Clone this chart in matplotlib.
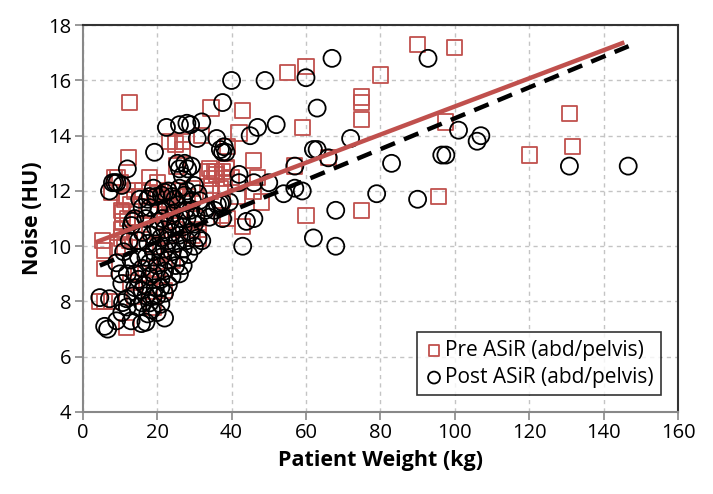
import matplotlib
matplotlib.use('Agg')
import matplotlib.pyplot as plt
import numpy as np

plt.rcParams['font.family'] = ['Open Sans', 'DejaVu Sans']

# Pre ASiR (abd/pelvis) -- squares
preX = [90, 100, 55, 60, 80, 75, 75, 75, 34.5, 43, 59, 97.6, 42, 39, 46, 57, 66, 95.7, 75, 60,
        43, 31, 130.8, 131.6, 120, 12.6, 32, 25, 12.3, 26.8, 25.2, 36, 37.5, 9.4, 11.3, 20, 22.8,
        25, 29.5, 34.6, 15.3, 10.5, 34.3, 36, 37, 41.6, 48, 46, 47, 38.6, 34, 23.3, 26.8, 33.5,
        35.4, 38.6, 34.6, 38, 40, 24, 37.3, 38.9, 21, 22.5, 23.3, 30.5, 31, 29.5, 5.9, 7.8, 5.9,
        5.9, 11.8, 13, 4.5, 14, 16, 18, 19, 20, 21, 22, 23, 24, 25, 26, 27, 28, 17, 15, 14, 18,
        20, 22, 24, 16, 20, 18, 12, 13, 14, 12.6, 11.3, 9.4, 5.4, 10.7, 10.7, 10.5, 10.5, 8.6,
        10, 7.8, 11.8, 22, 19]
preY = [17.3, 17.2, 16.3, 16.5, 16.2, 15.4, 15.2, 14.6, 15.0, 14.9, 14.3, 14.5, 14.1, 13.6, 13.1,
        12.9, 13.2, 11.8, 11.3, 11.1, 10.7, 10.3, 14.8, 13.6, 13.3, 15.2, 14.0, 13.7, 13.2, 13.5,
        12.9, 12.7, 12.7, 12.5, 11.7, 11.9, 12.0, 12.0, 12.1, 12.2, 11.8, 11.3, 12.0, 12.6, 12.1,
        11.8, 11.6, 12.0, 12.5, 12.8, 12.8, 13.8, 13.8, 12.7, 12.7, 12.85, 12.45, 12.45, 12.5,
        12.0, 11.1, 11.0, 11.7, 11.6, 11.3, 11.0, 10.6, 10.4, 8.0, 8.0, 9.85, 9.2, 7.05, 8.7, 8.0,
        10.5, 10.8, 11.3, 10.0, 10.6, 9.8, 10.9, 10.4, 11.1, 10.6, 11.3, 11.6, 11.8, 9.2, 9.0,
        8.2, 8.6, 8.9, 9.2, 9.5, 12.0, 12.3, 12.5, 11.0, 11.5, 12.0, 10.2, 10.0, 9.95, 10.2, 11.2,
        10.9, 10.6, 10.3, 12.5, 12.3, 11.95, 11.8, 8.4, 7.8]

# Post ASiR (abd/pelvis) -- circles
postX = [67, 92.8, 40, 49, 60, 37.6, 63, 32, 52, 47, 45, 36, 37, 38.5, 62, 63, 72, 66, 83, 96.5,
         97.6, 101, 107, 106, 130.8, 146.6, 57, 42, 42, 46, 50, 54, 57, 59, 79, 90, 37, 33, 37.6,
         44, 46, 68, 62, 68, 43,
         22.5, 26, 28, 29, 30.8, 38, 37.6, 19.3, 25.5, 27.4, 29.2, 28.2, 26.8, 26, 12, 8, 10.5,
         7.2, 8.6, 9.2, 24.7, 27.3, 29.5, 31.4, 22, 21.2, 36.2, 37.5, 35.4, 33.2, 34, 39.4, 15.3,
         17.4, 18, 19, 19.7, 13.4, 13.1,
         4.6, 7.2, 5.9, 6.7, 9.1, 10, 10.5, 10.7, 11.8, 12, 10.5, 9.1, 13, 15.8, 17, 17.5, 14.8,
         16, 18, 20, 22, 21,
         14, 15, 16, 16.5, 17, 17.5, 18, 18, 18.5, 19, 19, 19.5, 19.5, 20, 20, 20.5, 20.5, 21, 21,
         21, 21.5, 22, 22, 22, 22.5, 23, 23, 23, 23.5, 24, 24, 24.5, 25, 25, 25, 25.5, 26, 26,
         26.5, 27, 27, 27.5, 28, 28, 28.5, 29, 29, 30, 30, 30.5, 31, 32, 16, 15, 14, 13, 12.5, 12,
         11, 17, 18, 16, 14, 15, 13.5, 17, 16, 19, 20, 18.5, 21, 22, 24, 26, 27, 24, 26, 28, 23,
         30, 31]
postY = [16.8, 16.8, 16.0, 16.0, 16.1, 15.2, 15.0, 14.5, 14.4, 14.3, 14.0, 13.9, 13.5, 13.4, 13.5,
         13.5, 13.9, 13.2, 13.0, 13.3, 13.3, 14.2, 14.0, 13.8, 12.9, 12.9, 12.9, 12.6, 12.3, 12.3,
         12.3, 11.9, 12.1, 12.0, 11.9, 11.7, 11.55, 11.3, 11.0, 10.9, 11.0, 11.3, 10.3, 10.0, 10.0,
         14.3, 14.4, 14.45, 14.4, 13.9, 13.6, 13.4, 13.4, 13.0, 13.0, 12.9, 12.8, 12.55, 12.8,
         12.8, 12.3, 12.2, 12.0, 12.3, 12.3, 11.7, 11.85, 11.65, 11.65, 11.95, 11.85, 11.5, 11.6,
         11.3, 11.4, 11.05, 11.6, 11.7, 11.7, 11.4, 12.1, 11.8, 10.9, 10.75,
         8.14, 8.1, 7.1, 7.0, 9.4, 9.0, 8.65, 7.96, 8.1, 7.8, 7.6, 7.3, 7.3, 7.2, 7.25, 7.55, 7.8,
         7.95, 7.95, 8.2, 7.4, 7.9,
         8.5, 8.8, 9.2, 8.6, 9.6, 10.1, 8.9, 9.4, 10.4, 9.0, 9.8, 10.7, 8.5, 9.3, 10.0, 10.9, 11.3,
         8.8, 9.6, 10.3, 11.0, 9.1, 9.9, 10.6, 11.4, 8.6, 9.5, 10.2, 10.9, 9.8, 10.5, 11.2, 9.3,
         10.1, 10.8, 11.5, 9.6, 10.4, 11.0, 9.9, 10.7, 11.3, 10.2, 11.0, 9.7, 10.5, 11.3, 10.0,
         10.8, 11.1, 10.3, 10.2, 10.5, 9.6, 9.0, 9.5, 10.2, 9.0, 9.8, 11.0, 11.8, 11.4, 11.0, 10.2,
         8.2, 8.2, 8.4, 8.2, 7.6, 7.7, 8.5, 8.3, 8.9, 9.0, 9.3, 11.8, 12.1, 12.0, 12.0, 12.2, 11.9]

# trend lines (start/end)
preFitX = [4, 145]
preFitY = [10.17, 17.35]
postFitX = [4.6, 146.7]
postFitY = [9.3, 17.24]

xTicks = [0, 20, 40, 60, 80, 100, 120, 140, 160]
yTicks = [4, 6, 8, 10, 12, 14, 16, 18]

red = '#C0504D'

fig = plt.figure(figsize=(7.13, 4.94), dpi=100)
ax = fig.add_axes([0.116, 0.166, 0.835, 0.783])

ax.scatter(preX, preY, marker='s', s=120, facecolors='none', edgecolors=red,
           linewidths=1.3, label='Pre ASiR (abd/pelvis)', zorder=3)
ax.scatter(postX, postY, marker='o', s=150, facecolors='none', edgecolors='black',
           linewidths=1.3, label='Post ASiR (abd/pelvis)', zorder=3)

ax.plot(preFitX, preFitY, '-', color=red, lw=3.2, zorder=4)
ax.plot(postFitX, postFitY, '--', color='black', lw=3.2, dashes=(3.5, 2.2), zorder=4)

ax.set_xlim(0, 160)
ax.set_ylim(4, 18)
ax.set_xticks(xTicks)
ax.set_yticks(yTicks)
ax.tick_params(labelsize=14.5, color='#888888', length=6, width=1.2, direction='out', pad=2)
ax.grid(True, linestyle=(0, (3, 3)), color='#c4c4c4', lw=1)
ax.set_axisbelow(True)

for s in ['left', 'bottom']:
    ax.spines[s].set_color('#888888')
    ax.spines[s].set_linewidth(1.5)
for s in ['top', 'right']:
    ax.spines[s].set_color('#333333')
    ax.spines[s].set_linewidth(1.5)

ax.set_xlabel('Patient Weight (kg)', fontsize=15.5, fontweight='bold', labelpad=5)
ax.set_ylabel('Noise (HU)', fontsize=15.5, fontweight='bold', labelpad=4)

leg = ax.legend(loc='lower right', fontsize=15, frameon=True, fancybox=False,
                edgecolor='black', borderaxespad=0.8, handletextpad=0.1,
                handlelength=0.9, borderpad=0.35, labelspacing=0.3, markerscale=0.7)
leg.get_frame().set_linewidth(1.2)

fig.savefig('out.png', dpi=100)
